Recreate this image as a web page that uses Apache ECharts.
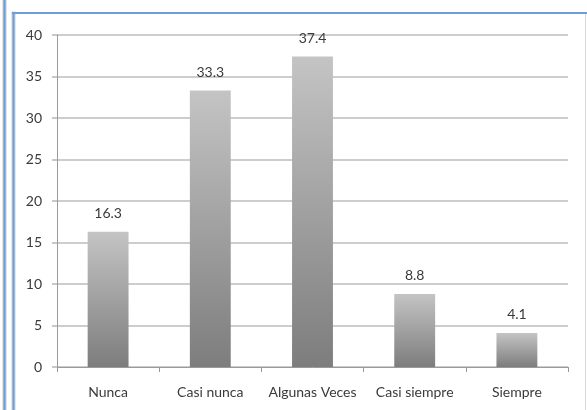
<!DOCTYPE html>
<html><head><meta charset="utf-8">
<script src="https://cdn.jsdelivr.net/npm/echarts@6/dist/echarts.min.js"></script>
<style>html,body{margin:0;padding:0;background:#fff}#c{width:587px;height:410px}</style>
</head><body><div id="c"></div>
<script>
const categories = ["Nunca", "Casi nunca", "Algunas Veces", "Casi siempre", "Siempre"];
const values = [16.3, 33.3, 37.4, 8.8, 4.1];
const yTicks = [0, 5, 10, 15, 20, 25, 30, 35, 40];

const chart = echarts.init(document.getElementById('c'), null, {renderer: 'canvas'});
const font = 'Lato, "Open Sans", sans-serif';
chart.setOption({
  animation: false,
  backgroundColor: '#fff',
  grid: {left: 57, right: 19, top: 35, bottom: 43, containLabel: false},
  xAxis: {
    type: 'category', data: categories,
    axisLine: {lineStyle: {color: '#9a9a9a', width: 1}},
    axisTick: {show: true, alignWithLabel: false, length: 5, lineStyle: {color: '#9a9a9a'}},
    axisLabel: {color: '#3a3a3a', fontFamily: font, fontSize: 14, margin: 18, interval: 0}
  },
  yAxis: {
    type: 'value', min: yTicks[0], max: yTicks[yTicks.length - 1], interval: 5,
    axisLine: {show: true, lineStyle: {color: '#9a9a9a', width: 1}},
    axisTick: {show: true, length: 5, lineStyle: {color: '#c8c8c8', width: 2}},
    axisLabel: {color: '#3a3a3a', fontFamily: font, fontSize: 14, margin: 15, padding: [4, 0, 0, 0]},
    splitLine: {lineStyle: {color: '#cdcdcd', width: 2}}
  },
  series: [{
    type: 'bar', data: values, barWidth: '40%',
    itemStyle: {
      color: new echarts.graphic.LinearGradient(0, 0, 0, 1, [
        {offset: 0, color: '#c4c4c4'},
        {offset: 1, color: '#7d7d7d'}
      ])
    },
    label: {show: true, position: 'top', distance: 11, color: '#3a3a3a', fontFamily: font, fontSize: 14}
  }],
  graphic: [
    {type: 'rect', shape: {x: 3, y: -2, width: 3, height: 420}, style: {fill: '#6a9fdc', stroke: '#c8c8c8', lineWidth: 1}, silent: true},
    {type: 'rect', shape: {x: 12, y: 12, width: 3, height: 410}, style: {fill: '#6a9fdc', stroke: '#d0d0d0', lineWidth: 1}, silent: true},
    {type: 'rect', shape: {x: 12, y: 12, width: 580, height: 2}, style: {fill: '#6a9fdc'}, silent: true},
    {type: 'line', shape: {x1: 585.5, y1: 14, x2: 585.5, y2: 410}, style: {stroke: '#d8d8d8', lineWidth: 1}, silent: true}
  ]
});
</script></body></html>
